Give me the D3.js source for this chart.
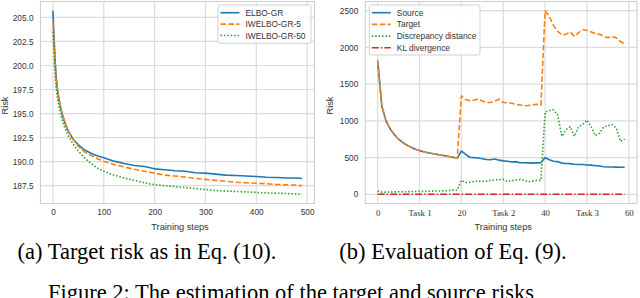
<!DOCTYPE html>
<html><head><meta charset="utf-8">
<script src="https://cdn.jsdelivr.net/npm/d3@7"></script>
<style>
html,body{margin:0;padding:0;background:#fff;}
svg{display:block;}
</style></head>
<body>
<svg id="c" width="640" height="298"></svg>
<script>
// ---------- Data: panel (a) ----------
const stepsA = [0,2,4,6,8,10,15,20,25,30,40,50,60,70,80,90,100,120,140,160,180,200,220,240,260,280,300,320,340,360,380,400,420,440,460,480,490];
const elbo = [205.7,203.0,200.8,199.0,197.9,197.0,195.6,194.6,193.8,193.2,192.3,191.75,191.3,191.0,190.75,190.55,190.4,190.05,189.8,189.6,189.5,189.25,189.15,189.05,189.0,188.85,188.8,188.7,188.6,188.55,188.5,188.45,188.38,188.35,188.3,188.3,188.25];
const iw5  = [204.5,202.6,200.5,199.0,197.9,197.1,195.7,194.7,193.9,193.2,192.3,191.6,191.1,190.75,190.5,190.25,190.05,189.7,189.45,189.2,189.0,188.8,188.6,188.5,188.4,188.25,188.15,188.05,187.95,187.85,187.8,187.75,187.7,187.62,187.58,187.55,187.5];
const iw50 = [203.5,201.2,199.2,197.8,196.9,196.2,195.0,194.0,193.3,192.7,191.8,191.1,190.5,190.0,189.6,189.25,189.0,188.6,188.3,188.05,187.8,187.6,187.5,187.4,187.3,187.2,187.1,187.0,186.95,186.9,186.85,186.8,186.75,186.72,186.68,186.62,186.6];
const seriesNamesA = ["ELBO-GR","IWELBO-GR-5","IWELBO-GR-50"];
const yTicksA = [187.5,190.0,192.5,195.0,197.5,200.0,202.5,205.0];
const xTicksA = [0,100,200,300,400,500];

// ---------- Data: panel (b) ----------
const stepsB = d3.range(0,60);
const source = [1820,1200,1000,890,810,750,705,670,640,615,595,580,565,555,545,535,525,515,505,490,
                590,545,505,500,495,485,475,470,480,465,455,450,440,445,430,430,428,425,428,430,
                500,470,450,445,425,420,418,410,405,405,400,398,390,385,375,372,372,370,368,368];
const target = [1820,1200,1000,890,810,750,705,670,640,615,595,580,565,555,545,535,525,515,505,490,
                1340,1290,1275,1280,1300,1270,1250,1250,1270,1295,1250,1245,1240,1225,1215,1205,1210,1220,1225,1215,
                2500,2420,2300,2220,2170,2180,2210,2150,2200,2240,2230,2210,2190,2180,2150,2130,2150,2130,2080,2050];
const discrepancy = [45,30,30,32,33,35,35,36,38,38,40,40,42,44,45,46,48,52,58,55,
                190,160,165,175,180,175,180,190,195,200,205,175,185,195,200,195,170,180,190,190,
                1120,1140,1150,1080,790,880,920,790,920,950,1010,920,800,830,920,930,950,900,720,750];
const klDiv = [0,0,0,0,0,0,0,0,0,0,0,0,0,0,0,0,0,0,0,0,
               0,0,0,0,0,0,0,0,0,0,0,0,0,0,0,0,0,0,0,0,
               0,0,0,0,0,0,0,0,0,0,0,0,0,0,0,0,0,0,0,0];
const seriesNamesB = ["Source","Target","Discrepancy distance","KL divergence"];
const yTicksB = [0,500,1000,1500,2000,2500];
const xTicksB = [0,10,20,30,40,50,60];
const xTickLabelsB = ["0","Task 1","20","Task 2","40","Task 3","60"];

const captionA = "(a) Target risk as in Eq. (10).";
const captionB = "(b) Evaluation of Eq. (9).";
const figCaption = "Figure 2: The estimation of the target and source risks";

// ---------- Styles ----------
const colors = ["#1f77b4","#ff7f0e","#2ca02c","#d62728"];
const dashes = [null,"5.5,2.4","1.5,1.9","7,2,1.5,2"];
const sans = "Liberation Sans, Arial, sans-serif";
const serif = "Liberation Serif, Times New Roman, serif";
const gridColor = "#dcdcdc";
const spineColor = "#cfcfcf";

const svg = d3.select("#c");

function panel(opt){
  const g = svg.append("g");
  const x = d3.scaleLinear().domain(opt.xDomain).range([opt.x0,opt.x1]);
  const y = d3.scaleLinear().domain(opt.yDomain).range([opt.y1,opt.y0]);
  // grid
  g.append("g").selectAll("line").data(opt.xTicks).join("line")
    .attr("x1",d=>x(d)).attr("x2",d=>x(d)).attr("y1",opt.y0).attr("y2",opt.y1)
    .attr("stroke",gridColor).attr("stroke-width",1.2);
  g.append("g").selectAll("line").data(opt.yTicks).join("line")
    .attr("y1",d=>y(d)).attr("y2",d=>y(d)).attr("x1",opt.x0).attr("x2",opt.x1)
    .attr("stroke",gridColor).attr("stroke-width",1.2);
  // axes (labels only)
  const ax = d3.axisBottom(x).tickValues(opt.xTicks).tickSize(0).tickPadding(6)
      .tickFormat((d,i)=>opt.xTickLabels ? opt.xTickLabels[i] : d3.format("d")(d));
  const gx = g.append("g").attr("transform",`translate(0,${opt.y1})`).call(ax);
  gx.select(".domain").remove();
  gx.selectAll("text").attr("font-family",opt.xFont).attr("font-size",opt.xFontSize).attr("fill","#333");
  const ay = d3.axisLeft(y).tickValues(opt.yTicks).tickSize(0).tickPadding(7)
      .tickFormat(opt.yFormat);
  const gy = g.append("g").attr("transform",`translate(${opt.x0},0)`).call(ay);
  gy.select(".domain").remove();
  gy.selectAll("text").attr("font-family",sans).attr("font-size",8.3).attr("fill","#333");
  // frame
  g.append("rect").attr("x",opt.x0).attr("y",opt.y0).attr("width",opt.x1-opt.x0).attr("height",opt.y1-opt.y0)
    .attr("fill","none").attr("stroke",spineColor).attr("stroke-width",1.1);
  // lines
  const clip = "clip"+opt.id;
  svg.append("clipPath").attr("id",clip).append("rect")
    .attr("x",opt.x0).attr("y",opt.y0).attr("width",opt.x1-opt.x0).attr("height",opt.y1-opt.y0);
  const lg = g.append("g").attr("clip-path",`url(#${clip})`);
  opt.series.forEach((s,i)=>{
    const line = d3.line().x((d,j)=>x(opt.xs[j])).y(d=>y(d));
    lg.append("path").datum(s).attr("d",line).attr("fill","none")
      .attr("stroke",colors[opt.order[i]]).attr("stroke-width",opt.widths[i])
      .attr("stroke-dasharray",dashes[opt.order[i]])
      .attr("stroke-linejoin","round");
  });
  // axis titles
  g.append("text").attr("x",(x(opt.xTicks[0])+x(opt.xTicks[opt.xTicks.length-1]))/2).attr("y",229.5)
    .attr("text-anchor","middle").attr("font-family",sans).attr("font-size",9.2).attr("fill","#333")
    .text("Training steps");
  g.append("text").attr("transform",`translate(${opt.riskX},${(opt.y0+opt.y1)/2+3}) rotate(-90)`)
    .attr("text-anchor","middle").attr("font-family",sans).attr("font-size",9.2).attr("fill","#333")
    .text("Risk");
  // legend
  const L = opt.legend;
  g.append("rect").attr("x",L.x).attr("y",L.y).attr("width",L.w).attr("height",L.h)
    .attr("rx",2).attr("fill","#fff").attr("fill-opacity",0.85)
    .attr("stroke","#cccccc").attr("stroke-width",0.9);
  opt.names.forEach((n,i)=>{
    const yy = L.y + 7.7 + i*L.dy;
    g.append("line").attr("x1",L.x+2.5).attr("x2",L.x+21.5).attr("y1",yy).attr("y2",yy)
      .attr("stroke",colors[opt.order[i]]).attr("stroke-width",opt.widths[i])
      .attr("stroke-dasharray",dashes[opt.order[i]]);
    g.append("text").attr("x",L.x+27.5).attr("y",yy+3).attr("font-family",sans)
      .attr("font-size",8.4).attr("fill","#333").text(n);
  });
}

panel({
  id:"a", x0:40.5, x1:314.5, y0:1.5, y1:203.5,
  xDomain:[-24.5,514.5], yDomain:[185.645,206.655],
  xTicks:xTicksA, yTicks:yTicksA, yFormat:d3.format(".1f"),
  xFont:sans, xFontSize:8.3,
  xs:stepsA, series:[elbo,iw5,iw50], order:[0,1,2], widths:[1.6,1.6,1.6],
  names:seriesNamesA, riskX:8,
  legend:{x:218,y:5,w:93,h:38.3,dy:11.4}
});
panel({
  id:"b", x0:365.3, x1:637, y0:1.5, y1:203.5,
  xDomain:[-2.95,61.95], yDomain:[-125,2625],
  xTicks:xTicksB, xTickLabels:xTickLabelsB, yTicks:yTicksB, yFormat:d3.format("d"),
  xFont:serif, xFontSize:8.8,
  xs:stepsB, series:[source,target,discrepancy,klDiv], order:[0,1,2,3], widths:[1.6,1.6,1.6,1.6],
  names:seriesNamesB, riskX:333,
  legend:{x:369.3,y:5,w:110.7,h:50,dy:11.7}
});

// captions
const capSize = 22.5;
svg.append("text").attr("x",147).attr("y",259).attr("text-anchor","middle")
  .attr("font-family",serif).attr("font-size",capSize).attr("fill","#000").text(captionA);
svg.append("text").attr("x",453).attr("y",259).attr("text-anchor","middle")
  .attr("font-family",serif).attr("font-size",capSize).attr("fill","#000").text(captionB);
svg.append("text").attr("x",48).attr("y",300).attr("text-anchor","start")
  .attr("font-family",serif).attr("font-size",capSize).attr("fill","#000").text(figCaption);
</script>
</body></html>
